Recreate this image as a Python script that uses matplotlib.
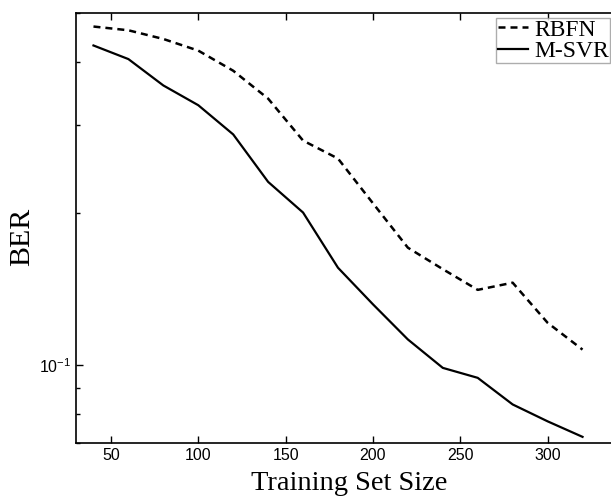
import numpy as np
import matplotlib
matplotlib.use("Agg")
import matplotlib.pyplot as plt

# training set sizes and bit error rates
train_size = [40, 60, 80, 100, 120, 140, 160, 180, 200, 220, 240, 260, 280, 300, 320]
ber_rbfn = [0.470, 0.462, 0.444, 0.421, 0.384, 0.338, 0.279, 0.257, 0.2095,
            0.171, 0.155, 0.141, 0.1457, 0.1213, 0.1073]
ber_msvr = [0.431, 0.405, 0.359, 0.328, 0.287, 0.231, 0.2008, 0.156, 0.132,
            0.1124, 0.0987, 0.0943, 0.0835, 0.0773, 0.0720]

plt.rcParams["font.family"] = ["Liberation Sans", "DejaVu Sans"]

fig = plt.figure(figsize=(6.11, 4.98), dpi=100)
# right edge of the box sits just outside the picture, as in the reference
ax = fig.add_axes([0.1244, 0.1104, 0.8773, 0.8635])

ax.plot(train_size, ber_rbfn, color="black", lw=1.8,
        linestyle=(0, (2.8, 2.0)), label="RBFN")
ax.plot(train_size, ber_msvr, color="black", lw=1.6, label="M-SVR")

ax.set_yscale("log")
ax.set_xlim(30, 336.9)
ax.set_ylim(0.07, 0.5)
ax.set_xticks([50, 100, 150, 200, 250, 300])
ax.tick_params(axis="both", which="both", direction="in", top=True, right=False,
               labelsize=11.5, width=1.0)
ax.tick_params(which="major", length=5)
ax.tick_params(which="minor", length=3)
ax.yaxis.set_minor_formatter(matplotlib.ticker.NullFormatter())
for s in ax.spines.values():
    s.set_linewidth(1.2)

ax.set_xlabel("Training Set Size", family="Liberation Serif", fontsize=20.5)
ax.set_ylabel("BER", family="Liberation Serif", fontsize=21.5)
ax.xaxis.set_label_coords(0.51, -0.064)
ax.yaxis.set_label_coords(-0.077, 0.479)

leg = ax.legend(loc="upper right", bbox_to_anchor=(0.9963, 0.9884),
                prop={"family": "Liberation Serif", "size": 17},
                frameon=True, fancybox=False, handlelength=1.3, handletextpad=0.25,
                borderpad=0.05, labelspacing=0.0, borderaxespad=0.0)
leg.get_frame().set_edgecolor("#999999")
leg.get_frame().set_linewidth(1.0)

fig.savefig("out.png", dpi=100)
